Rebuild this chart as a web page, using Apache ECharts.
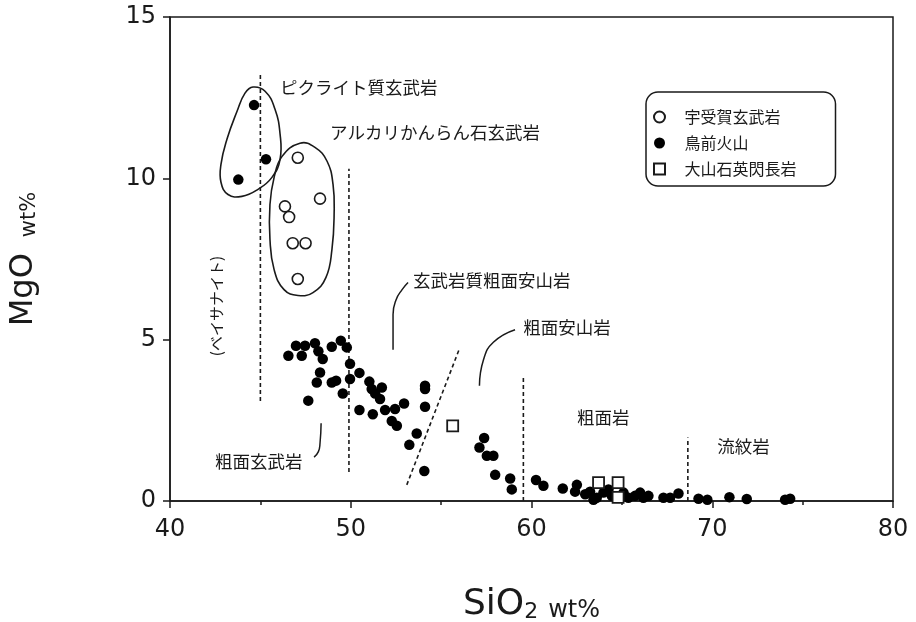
<!DOCTYPE html>
<html>
<head>
<meta charset="utf-8">
<script src="https://cdn.jsdelivr.net/npm/echarts@6/dist/echarts.min.js"></script>
<style>
  html, body { margin: 0; padding: 0; background: #fff; }
  #chart { width: 916px; height: 622px; }
</style>
</head>
<body>
<div id="chart"></div>
<script>
// ---------------- data ----------------
const seriesNames = ['宇受賀玄武岩', '鳥前火山', '大山石英閃長岩'];

// 宇受賀玄武岩 (open circles)
const ukagaBasalt = [
  [47.07, 10.64], [48.30, 9.37], [46.36, 9.13], [46.59, 8.80],
  [46.79, 7.99], [47.50, 7.99], [47.07, 6.88]
];

// 鳥前火山 (filled circles)
const tomaeVolcano = [
  [44.65, 12.27], [45.31, 10.59], [43.78, 9.96],
  [46.97, 4.81], [47.47, 4.81], [48.02, 4.89], [48.95, 4.78], [49.45, 4.97], [49.78, 4.76],
  [46.55, 4.50], [47.29, 4.50], [48.21, 4.64], [48.45, 4.40], [49.96, 4.25], [48.30, 3.98],
  [50.48, 3.97], [48.12, 3.67], [48.95, 3.67], [49.19, 3.73], [49.96, 3.78], [51.03, 3.70],
  [51.16, 3.47], [51.72, 3.52], [51.35, 3.33], [51.62, 3.16], [49.56, 3.33], [47.65, 3.11],
  [50.48, 2.82], [51.22, 2.69], [51.90, 2.82], [52.45, 2.85], [52.95, 3.02], [54.11, 3.57],
  [54.11, 3.47], [54.11, 2.92], [52.27, 2.48], [52.55, 2.33], [53.65, 2.09], [53.24, 1.74],
  [54.07, 0.93], [57.38, 1.95], [57.12, 1.66], [57.53, 1.40], [57.89, 1.40], [57.99, 0.81],
  [58.82, 0.70], [58.91, 0.36], [60.25, 0.65], [60.66, 0.47], [61.73, 0.39], [62.51, 0.50],
  [62.41, 0.29], [62.97, 0.21], [63.24, 0.29], [63.61, 0.10], [63.43, 0.04], [63.98, 0.26],
  [64.26, 0.36], [64.44, 0.16], [65.09, 0.26], [65.36, 0.10], [65.73, 0.16], [66.01, 0.26],
  [66.19, 0.10], [66.47, 0.16], [67.30, 0.10], [67.67, 0.10], [68.13, 0.23], [69.24, 0.07],
  [69.73, 0.04], [70.95, 0.12], [71.91, 0.06], [74.03, 0.04], [74.31, 0.07]
];

// 大山石英閃長岩 (open squares)
const oyamaSyenite = [
  [55.64, 2.33], [63.71, 0.57], [64.79, 0.57], [64.79, 0.11]
];

// axis
const xMin = 40, xMax = 80, xStep = 10;
const yMin = 0, yMax = 15, yStep = 5;
const axisTitleX = ['SiO', '2', 'wt%'];
const axisTitleY = ['MgO', 'wt%'];

// field boundary (dashed) lines, data units
const boundaryLines = [
  [[45.0, 3.1], [45.0, 13.2]],
  [[49.9, 0.9], [49.9, 10.3]],
  [[53.1, 0.5], [56.0, 4.7]],
  [[59.55, 0.0], [59.55, 3.83]],
  [[68.65, 0.0], [68.65, 1.97]]
];

// leader curves, data units
const leaderLines = [
  [[52.34, 4.69], [52.34, 5.78], [52.51, 6.24], [52.84, 6.55], [53.17, 6.77]],
  [[57.12, 3.57], [57.34, 4.37], [57.89, 4.92], [59.09, 5.31]],
  [[48.36, 2.41], [48.30, 1.79], [48.21, 1.53], [47.97, 1.36]]
];

// grouping outlines, data units
const picriteOutline = [
  [44.59, 12.83], [45.26, 12.70], [45.81, 12.14], [46.09, 11.37], [46.09, 10.59],
  [45.64, 10.03], [44.87, 9.66], [43.98, 9.44], [43.21, 9.50], [42.82, 9.88],
  [42.82, 10.43], [43.15, 11.21], [43.71, 12.08], [44.15, 12.64]
];
const alkaliOutline = [
  [47.19, 11.09], [48.02, 10.96], [48.69, 10.53], [49.02, 9.81], [49.08, 8.88],
  [48.96, 7.80], [48.63, 6.93], [47.91, 6.46], [47.08, 6.37], [46.31, 6.55],
  [45.76, 7.17], [45.53, 8.11], [45.53, 9.19], [45.76, 10.03], [46.20, 10.68]
];

// rock-name annotations
const annoTexts = ['ピクライト質玄武岩', 'アルカリかんらん石玄武岩', '玄武岩質粗面安山岩',
  '粗面安山岩', '粗面岩', '流紋岩', '粗面玄武岩', '(ベイサナイト)'];
const annoPos = [[46.09, 12.83], [48.85, 11.43], [53.45, 6.83], [59.54, 5.37],
  [62.52, 2.58], [70.27, 1.68], [42.49, 1.24], [42.58, 6.04]];
const annoRotate = [0, 0, 0, 0, 0, 0, 0, 90];

// ---------------- chart ----------------
const chart = echarts.init(document.getElementById('chart'), null, { renderer: 'canvas' });
const ink = '#1a1a1a';
const numFont = 'DejaVu Sans';
const cjkFont = 'Noto Sans CJK JP';

const series = [];

boundaryLines.forEach(function (seg) {
  series.push({
    type: 'line', data: seg, symbol: 'none', silent: true, z: 2,
    lineStyle: { color: ink, width: 1.6, type: [4, 3] }
  });
});
leaderLines.forEach(function (seg) {
  series.push({
    type: 'line', data: seg, symbol: 'none', silent: true, smooth: 0.5, z: 2,
    lineStyle: { color: ink, width: 1.5 }
  });
});
[picriteOutline, alkaliOutline].forEach(function (outline) {
  series.push({
    type: 'custom', silent: true, z: 2,
    data: [outline[0]],
    renderItem: function (params, api) {
      const pts = outline.map(function (p) { return api.coord(p); });
      return {
        type: 'polygon',
        shape: { points: pts, smooth: 0.45 },
        style: { fill: 'none', stroke: ink, lineWidth: 1.6 }
      };
    }
  });
});
series.push({
  type: 'custom', silent: true, z: 3,
  data: annoPos.map(function (p, i) { return { value: [p[0], p[1]], name: annoTexts[i] }; }),
  renderItem: function (params, api) {
    const i = params.dataIndex;
    const p = api.coord([api.value(0), api.value(1)]);
    const rot = annoRotate[i];
    return {
      type: 'text', x: p[0], y: p[1], rotation: rot * Math.PI / 180,
      style: {
        text: annoTexts[i], fill: ink, fontFamily: cjkFont,
        fontSize: rot ? 15 : 17.5,
        align: rot ? 'center' : 'left', verticalAlign: 'middle'
      }
    };
  }
});

series.push({
  name: seriesNames[0], type: 'scatter', data: ukagaBasalt, symbol: 'circle', symbolSize: 11, z: 5,
  itemStyle: { color: '#fff', borderColor: ink, borderWidth: 1.6, opacity: 1 }
});
series.push({
  name: seriesNames[1], type: 'scatter', data: tomaeVolcano, symbol: 'circle', symbolSize: 10.5, z: 5,
  itemStyle: { color: '#000', opacity: 1 }
});
series.push({
  name: seriesNames[2], type: 'scatter', data: oyamaSyenite, symbol: 'rect', symbolSize: 11, z: 6,
  itemStyle: { color: '#fff', borderColor: ink, borderWidth: 1.8, opacity: 1 }
});

const option = {
  animation: false,
  backgroundColor: '#fff',
  grid: {
    left: 170, right: 23, top: 17, bottom: 121,
    outerBoundsMode: 'none', containLabel: false,
    show: true, borderColor: ink, borderWidth: 1.5, backgroundColor: 'transparent'
  },
  legend: {
    data: [
      { name: seriesNames[0] },
      { name: seriesNames[1] },
      { name: seriesNames[2], icon: 'path://M0,0L10,0L10,10L0,10Z' }
    ],
    orient: 'vertical', left: 646, top: 92,
    padding: [17, 39, 9, 7], itemWidth: 40, itemHeight: 11, itemGap: 10,
    symbolKeepAspect: true,
    borderColor: ink, borderWidth: 1.5, borderRadius: 12,
    selectedMode: false,
    textStyle: { fontSize: 16, fontFamily: cjkFont, color: ink, lineHeight: 16 }
  },
  xAxis: {
    type: 'value', min: xMin, max: xMax, interval: xStep,
    name: '{a|' + axisTitleX[0] + '}{b|' + axisTitleX[1] + '}{c|' + axisTitleX[2] + '}',
    nameLocation: 'middle', nameGap: 86,
    nameTextStyle: {
      rich: {
        a: { fontSize: 36, fontFamily: numFont, color: ink, verticalAlign: 'bottom' },
        b: { fontSize: 22, fontFamily: numFont, color: ink, verticalAlign: 'bottom' },
        c: { fontSize: 24, fontFamily: numFont, color: ink, verticalAlign: 'bottom', padding: [0, 0, 0, 10] }
      }
    },
    axisLine: { show: true, onZero: false, lineStyle: { color: ink, width: 1.5 } },
    axisTick: { show: true, inside: false, length: 7, lineStyle: { color: ink, width: 1.5 } },
    minorTick: { show: true, splitNumber: 2, length: 4, lineStyle: { color: ink, width: 1.5 } },
    splitLine: { show: false },
    axisLabel: { fontSize: 24, fontFamily: numFont, color: ink, margin: 17 }
  },
  yAxis: {
    type: 'value', min: yMin, max: yMax, interval: yStep,
    name: '{a|' + axisTitleY[0] + '}{c|' + axisTitleY[1] + '}',
    nameLocation: 'middle', nameGap: 130, nameRotate: 90,
    nameTextStyle: {
      rich: {
        a: { fontSize: 32, fontFamily: numFont, color: ink, verticalAlign: 'bottom' },
        c: { fontSize: 21, fontFamily: numFont, color: ink, verticalAlign: 'bottom', padding: [0, 0, 0, 16] }
      }
    },
    axisLine: { show: true, onZero: false, lineStyle: { color: ink, width: 1.5 } },
    axisTick: { show: true, inside: false, length: 7, lineStyle: { color: ink, width: 1.5 } },
    splitLine: { show: false },
    axisLabel: { fontSize: 24, fontFamily: numFont, color: ink, margin: 14 }
  },
  series: series
};
chart.setOption(option);
</script>
</body>
</html>
